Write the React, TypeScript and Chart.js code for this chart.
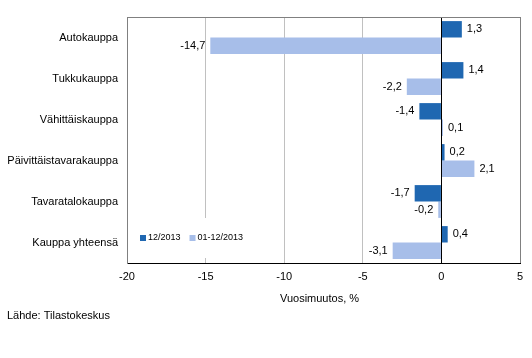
import React, { useEffect, useRef } from "react";
import { Chart, registerables } from "chart.js";

Chart.register(...registerables);

const categories = [
  "Autokauppa",
  "Tukkukauppa",
  "Vähittäiskauppa",
  "Päivittäistavarakauppa",
  "Tavaratalokauppa",
  "Kauppa yhteensä",
];
const seriesMonth = [1.3, 1.4, -1.4, 0.2, -1.7, 0.4];
const seriesYear = [-14.7, -2.2, 0.1, 2.1, -0.2, -3.1];
const seriesNames = ["12/2013", "01-12/2013"];
const xMin = -20;
const xMax = 5;
const xStep = 5;
const axisTitle = "Vuosimuutos, %";
const sourceText = "Lähde: Tilastokeskus";
const seriesColors = ["#1F67B1", "#A7BEE9"];

const FONT = '"Liberation Sans", Arial, sans-serif';

const overlay = {
  id: "overlay",
  afterDatasetsDraw(chart: any) {
    const ctx = chart.ctx;
    const area = chart.chartArea;
    ctx.save();
    // zero line
    const x0 = Math.round(chart.scales.x.getPixelForValue(0)) + 0.5;
    ctx.strokeStyle = "#000";
    ctx.lineWidth = 1;
    ctx.beginPath();
    ctx.moveTo(x0, area.top);
    ctx.lineTo(x0, area.bottom);
    ctx.stroke();
    // top frame
    ctx.strokeStyle = "#808080";
    ctx.beginPath();
    ctx.moveTo(area.left, area.top + 0.5);
    ctx.lineTo(area.right, area.top + 0.5);
    ctx.stroke();

    // data labels
    ctx.font = "11px " + FONT;
    ctx.fillStyle = "#000";
    ctx.textBaseline = "middle";
    chart.data.datasets.forEach((ds: any, di: number) => {
      const meta = chart.getDatasetMeta(di);
      meta.data.forEach((el: any, i: number) => {
        const v = ds.data[i];
        const txt = v.toFixed(1).replace(".", ",");
        if (v >= 0) {
          ctx.textAlign = "left";
          ctx.fillText(txt, el.x + 5, el.y);
        } else {
          ctx.textAlign = "right";
          ctx.fillText(txt, el.x - 5, el.y);
        }
      });
    });

    // legend
    const lx = area.left + 8;
    const ly = area.bottom - 45;
    ctx.fillStyle = "#fff";
    ctx.fillRect(lx, ly, 115, 40);
    ctx.font = "9px " + FONT;
    ctx.textAlign = "left";
    const cy = area.bottom - 25;
    let x = area.left + 13;
    seriesNames.forEach((name, i) => {
      ctx.fillStyle = seriesColors[i];
      ctx.fillRect(x, cy - 3, 6, 6);
      ctx.fillStyle = "#000";
      ctx.fillText(name, x + 8, cy);
      x += 8 + ctx.measureText(name).width + 9;
    });

    // axis title
    ctx.font = "11px " + FONT;
    ctx.textAlign = "center";
    ctx.fillText(axisTitle, (area.left + area.right) / 2 - 4, area.bottom + 36);
    // source
    ctx.textAlign = "left";
    ctx.fillText(sourceText, 7, area.bottom + 53);
    ctx.restore();
  },
};

export default function App() {
  const ref = useRef<HTMLCanvasElement>(null);
  useEffect(() => {
    if (!ref.current) return;
    Chart.defaults.font.family = FONT;
    const chart = new Chart(ref.current, {
      type: "bar",
      data: {
        labels: categories,
        datasets: [
          {
            label: seriesNames[0],
            data: seriesMonth,
            backgroundColor: seriesColors[0],
            categoryPercentage: 0.8,
            barPercentage: 1.0,
          },
          {
            label: seriesNames[1],
            data: seriesYear,
            backgroundColor: seriesColors[1],
            categoryPercentage: 0.8,
            barPercentage: 1.0,
          },
        ],
      },
      options: {
        indexAxis: "y",
        animation: false,
        responsive: false,
        devicePixelRatio: 1,
        layout: { padding: { top: 17, right: 12, left: 0, bottom: 0 } },
        plugins: { legend: { display: false }, tooltip: { enabled: false } },
        scales: {
          x: {
            min: xMin,
            max: xMax,
            ticks: {
              stepSize: xStep,
              color: "#000",
              font: { size: 11 },
              padding: 7,
              callback: (v: any) => String(v),
            },
            grid: {
              drawTicks: false,
              color: (c: any) => {
                const v = c.tick ? c.tick.value : null;
                if (v === 0) return "#000";
                if (v === xMin || v === xMax) return "#808080";
                return "#c0c0c0";
              },
            },
            border: { color: "#000" },
            afterFit: (s: any) => {
              s.height = 95;
            },
          },
          y: {
            ticks: { color: "#000", font: { size: 11 }, padding: 9 },
            grid: { display: false, drawTicks: false },
            border: { color: "#808080" },
            afterFit: (s: any) => {
              s.width = 127;
            },
          },
        },
      },
      plugins: [overlay],
    });
    return () => chart.destroy();
  }, []);
  return (
    <div style={{ position: "fixed", left: 0, top: 0, width: 532, height: 358, background: "#fff" }}>
      <canvas ref={ref} width={532} height={358} />
    </div>
  );
}
